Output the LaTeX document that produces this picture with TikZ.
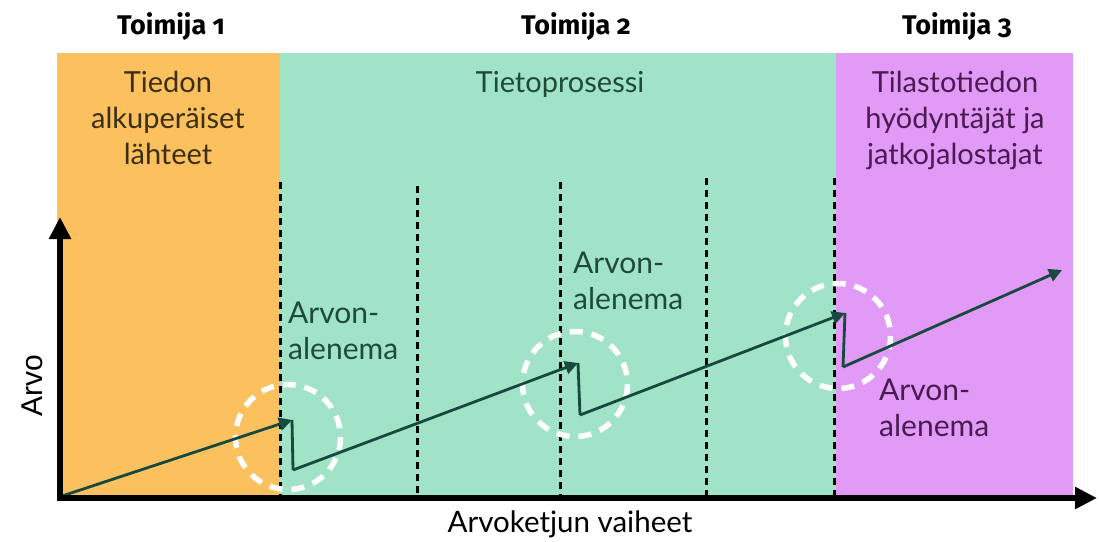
\documentclass[tikz,border=0pt]{standalone}
\usepackage{fontspec}
\setmainfont{Lato}
\newfontfamily\arvofont{Liberation Sans}
\newfontfamily\actorfont{Fira Sans}[Numbers=OldStyle]
\usetikzlibrary{arrows.meta, positioning}

\definecolor{srcorange}{HTML}{FBC15E}
\definecolor{procgreen}{HTML}{A0E3C7}
\definecolor{userpurple}{HTML}{E19AF6}
\definecolor{valteal}{HTML}{17493F}
\definecolor{srctext}{HTML}{3D2E12}
\definecolor{proctext}{HTML}{1F4A3B}
\definecolor{usertext}{HTML}{4A1B52}

\begin{document}
\begin{tikzpicture}[x=1pt, y=-1pt,
    actorlabel/.style={anchor=base, font=\actorfont\bfseries\fontsize{27}{32}\selectfont},
    bandlabel/.style={anchor=north, align=center, inner sep=0pt, font=\fontsize{29}{36}\selectfont},
    losslabel/.style={anchor=north west, align=left, inner sep=0pt, font=\fontsize{30}{36}\selectfont},
    stageline/.style={black, line width=3pt, dash pattern=on 7pt off 5pt},
    losscircle/.style={white, line width=5.5pt, dash pattern=on 13pt off 9pt},
    valuerise/.style={valteal, line width=2.8pt, -{Triangle[length=13pt, width=13pt]}},
    valuedrop/.style={valteal, line width=2.8pt},
    valueaxis/.style={black, line width=6.5pt, -{Triangle[length=22pt, width=21pt]}}]
    \useasboundingbox (0,0) rectangle (1099,541);
    % Bands
    \fill[srcorange] (57,53) rectangle (280,497);
    \fill[procgreen] (280,53) rectangle (836,497);
    \fill[userpurple] (836,53) rectangle (1073,497);
    % Actors
    \node[actorlabel] (actor1) at (171,34) {Toimija 1};
    \node[actorlabel] (actor2) at (576,34) {Toimija 2};
    \node[actorlabel] (actor3) at (957,34) {Toimija 3};
    % Band texts
    \node[bandlabel, srctext] (sources) at (168,71) {Tiedon\\alkuperäiset\\lähteet};
    \node[bandlabel, proctext] (process) at (560,71) {Tietoprosessi};
    \node[bandlabel, usertext] (users) at (955,71) {Tilastotiedon\\hyödyntäjät ja\\jatkojalostajat};
    % Stage boundaries
    \foreach \sx/\sy [count=\i] in {280/182, 417/186, 560/182, 706/178, 834/178} {
        \coordinate (stagetop\i) at (\sx,\sy);
        \coordinate (stagebot\i) at (\sx,495);
        \draw[stageline] (stagetop\i) -- (stagebot\i);
    }
    % Value drop circles
    \foreach \cx/\cy [count=\i] in {288/437, 575/384, 838/336} {
        \coordinate (loss\i) at (\cx,\cy);
        \draw[losscircle] (loss\i) circle[radius=52.5];
    }
    % Value chain
    \coordinate (start) at (62,496);
    \coordinate (top1) at (292,420);
    \coordinate (low1) at (293,470);
    \coordinate (top2) at (578,363);
    \coordinate (low2) at (580,415);
    \coordinate (top3) at (845,313);
    \coordinate (low3) at (843,367);
    \coordinate (top4) at (1062,270);
    \draw[valuerise] (start) -- (top1);
    \draw[valuedrop] (top1) -- (low1);
    \draw[valuerise] (low1) -- (top2);
    \draw[valuedrop] (top2) -- (low2);
    \draw[valuerise] (low2) -- (top3);
    \draw[valuedrop] (top3) -- (low3);
    \draw[valuerise] (low3) -- (top4);
    % Loss labels
    \node[losslabel, proctext] (drop1) at (288,302) {Arvon-\\alenema};
    \node[losslabel, proctext] (drop2) at (573,252) {Arvon-\\alenema};
    \node[losslabel, usertext] (drop3) at (879,379) {Arvon-\\alenema};
    % Axes
    \coordinate (ybase) at (60,501);
    \coordinate (ytip) at (60,217);
    \coordinate (xbase) at (57,498);
    \coordinate (xtip) at (1097,498);
    \draw[valueaxis] (ybase) -- (ytip);
    \draw[valueaxis] (xbase) -- (xtip);
    \node[anchor=base, font=\fontsize{29.5}{34}\selectfont] (stages) at (570,532) {Arvoketjun vaiheet};
    \node[rotate=90, font=\arvofont\fontsize{30}{36}\selectfont] (arvo) at (32,386) {Arvo};
\end{tikzpicture}
\end{document}
